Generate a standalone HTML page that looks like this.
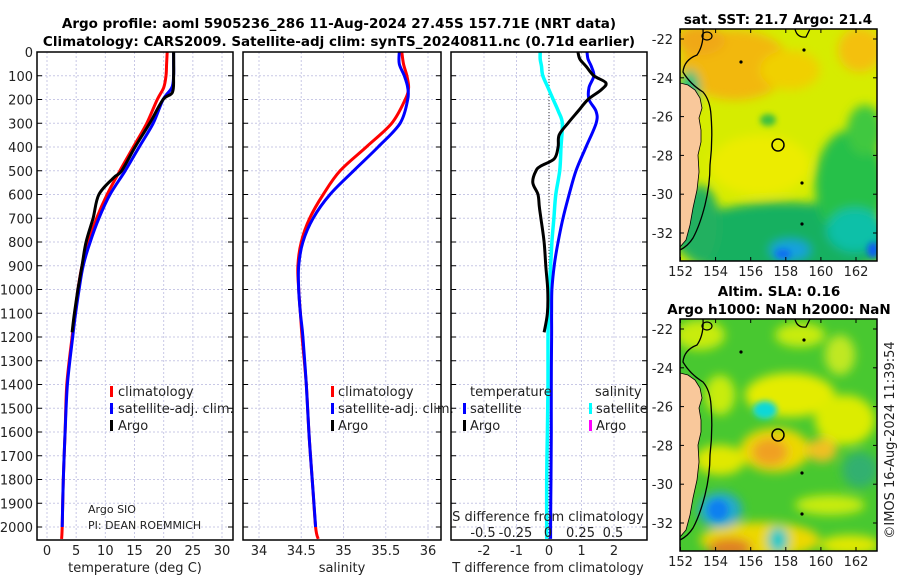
<!DOCTYPE html>
<html><head><meta charset="utf-8"><style>
html,body{margin:0;padding:0;background:#fff;}
svg{display:block;font-family:"DejaVu Sans","Liberation Sans",sans-serif;}
.t{font-size:13px;fill:#222}
.b{font-weight:bold;font-size:13.5px;fill:#000}
</style></head><body>
<svg id="chart" width="900" height="580" viewBox="0 0 900 580">
<defs>
<filter id="bl" x="-50%" y="-50%" width="200%" height="200%"><feGaussianBlur stdDeviation="5"/></filter>
<filter id="bl2" x="-50%" y="-50%" width="200%" height="200%"><feGaussianBlur stdDeviation="3"/></filter>
<clipPath id="cm1"><rect x="680" y="29" width="197" height="232"/></clipPath>
<clipPath id="cm2"><rect x="680" y="319" width="197" height="232"/></clipPath>
</defs>
<g id="g" ></g>
</svg>
<script>
// ---- data ----
const depthsShallow = [0,50,100,150,200,300,400,500,600,700,800,900,1000,1100,1200,1400,1600,1800,2000,2050];
const tempClim = [20.6,20.5,20.4,20.0,18.9,17.1,14.8,12.5,10.3,8.5,7.1,6.0,5.3,4.8,4.3,3.4,3.1,2.8,2.6,2.5];
const tempSat  = [21.7,21.7,21.7,21.4,19.9,18.2,15.8,13.4,10.8,8.9,7.4,6.2,5.5,4.9,4.4,3.5,3.1,2.8,2.6];
const argoDepths = [0,100,170,200,300,400,500,530,600,700,800,900,1000,1100,1180];
const tempArgo = [21.7,21.7,21.5,19.9,17.6,15.1,12.8,11.4,8.9,7.9,6.7,6.0,5.3,4.7,4.3];
const salClim = [35.69,35.71,35.75,35.77,35.73,35.57,35.27,34.96,34.76,34.60,34.50,34.46,34.47,34.49,34.51,34.56,34.59,34.63,34.67,34.70];
const salSat  = [35.66,35.66,35.72,35.76,35.76,35.67,35.41,35.12,34.84,34.64,34.52,34.47,34.47,34.49,34.52,34.56,34.59,34.63,34.67];
const diffDepths = [0,30,60,100,150,200,250,300,400,500,600,700,800,900,1000,1100,1200,1400,1600,1800,2000,2050];
const dTSat = [1.17,1.2,1.3,1.38,1.23,1.23,1.45,1.45,1.14,0.83,0.62,0.43,0.28,0.16,0.09,0.08,0.08,0.07,0.07,0.06,0.05,0.05];
const dSSat = [-0.06,-0.06,-0.05,-0.04,0,0.04,0.08,0.11,0.10,0.09,0.06,0.045,0.03,0.02,0.01,0.005,0,0,-0.005,-0.01,-0.01,-0.01];
const argoDiffDepths = [0,30,60,100,130,160,200,250,300,350,400,450,480,500,550,600,650,700,800,900,1000,1100,1180];
const dTArgo = [0.89,0.95,1.14,1.38,1.75,1.6,1.2,0.89,0.58,0.31,0.28,0.16,-0.25,-0.4,-0.5,-0.34,-0.3,-0.25,-0.15,-0.1,-0.04,-0.05,-0.15];
const depthTicks = [0,100,200,300,400,500,600,700,800,900,1000,1100,1200,1300,1400,1500,1600,1700,1800,1900,2000];
const tempTicks = [0,5,10,15,20,25,30];
const salTicks = [34,34.5,35,35.5,36];
const salTickLabels = ["34","34.5","35","35.5","36"];
const dTTicks = [-2,-1,0,1,2];
const dSTicks = [-0.5,-0.25,0,0.25,0.5];
const dSTickLabels = ["-0.5","-0.25","0","0.25","0.5"];
const lonTicks = [152,154,156,158,160,162];
const latTicks = [-22,-24,-26,-28,-30,-32];

const NS='http://www.w3.org/2000/svg';
const G=document.getElementById('g');
function el(tag,attrs,parent,txt){const e=document.createElementNS(NS,tag);for(const k in attrs)e.setAttribute(k,attrs[k]);if(txt!==undefined)e.textContent=txt;(parent||G).appendChild(e);return e;}

const Y0=52, YS=0.2375, YB=540;
function yD(d){return Y0+d*YS;}
function mk(x0,x1,v0,v1){return v=>x0+(v-v0)/(v1-v0)*(x1-x0);}
const P1={x0:37,x1:233}, P2={x0:243,x1:441}, P3={x0:451,x1:647};
const xT=mk(47,222,0,30), xS=mk(259,428,34,36), xdT=mk(484,614,-2,2), xdS=mk(548,613,0,0.5);

function panel(P,name){
  const g=el('g',{});
  
  
  return g;
}
function grid(g,P,xs,fx){
  depthTicks.forEach(d=>{if(d>0){const l=el('line',{x1:P.x0,x2:P.x1,y1:yD(d),y2:yD(d),stroke:'#c8c8e6','stroke-width':1,'stroke-dasharray':'2,2'},g);
  }});
  xs.forEach(v=>{const x=fx(v);const l=el('line',{x1:x,x2:x,y1:Y0,y2:YB,stroke:'#c8c8e6','stroke-width':1,'stroke-dasharray':'2,2'},g);
  });
  depthTicks.forEach(d=>{el('line',{x1:P.x0,x2:P.x0+5,y1:yD(d),y2:yD(d),stroke:'#000'},g);el('line',{x1:P.x1-5,x2:P.x1,y1:yD(d),y2:yD(d),stroke:'#000'},g);});
}
function frame(g,P){const r=el('rect',{x:P.x0,y:Y0,width:P.x1-P.x0,height:YB-Y0,fill:'none',stroke:'#000','stroke-width':1.5},g);
 }
function line(g,xs,ds,fx,color,w,name){
  const pts=[];for(let i=0;i<Math.min(xs.length,ds.length);i++)pts.push([fx(xs[i]),yD(ds[i])]);
  let p='M'+pts[0][0].toFixed(1)+','+pts[0][1].toFixed(1);
  for(let i=0;i<pts.length-1;i++){
    const p0=pts[Math.max(0,i-1)],p1=pts[i],p2=pts[i+1],p3=pts[Math.min(pts.length-1,i+2)];
    const c1=[p1[0]+(p2[0]-p0[0])/6,p1[1]+(p2[1]-p0[1])/6],c2=[p2[0]-(p3[0]-p1[0])/6,p2[1]-(p3[1]-p1[1])/6];
    p+='C'+c1[0].toFixed(1)+','+c1[1].toFixed(1)+' '+c2[0].toFixed(1)+','+c2[1].toFixed(1)+' '+p2[0].toFixed(1)+','+p2[1].toFixed(1);
  }
  const e=el('path',{d:p,fill:'none',stroke:color,'stroke-width':w,'stroke-linejoin':'round'},g);
  
  
}
function text(g,x,y,s,cls,anchor,name,extra){const a={x:x,y:y,class:cls||'t','text-anchor':anchor||'start'};if(extra)Object.assign(a,extra);const t=el('text',a,g,s);
 return t;}
function legMark(g,x,y,c){const r=el('rect',{x:x,y:y-10,width:3,height:11,fill:c},g);}

// titles
text(G,339,28,'Argo profile: aoml 5905236_286 11-Aug-2024 27.45S 157.71E (NRT data)','b','middle','title-line-1');
text(G,339,46,'Climatology: CARS2009. Satellite-adj clim: synTS_20240811.nc (0.71d earlier)','b','middle','title-line-2');

// panel 1
const g1=panel(P1,'temperature-panel');
grid(g1,P1,tempTicks,xT);
line(g1,tempClim,depthsShallow,xT,'#f00',3,'temperature-climatology-line');
line(g1,tempSat,depthsShallow,xT,'#00f',3,'temperature-satellite-line');
line(g1,tempArgo,argoDepths,xT,'#000',3,'temperature-argo-line');
frame(g1,P1);
depthTicks.forEach(d=>text(g1,33,yD(d)+5,String(d),'t','end','y-tick-label'));
tempTicks.forEach(v=>text(g1,xT(v),555,String(v),'t','middle','x-tick-label'));
text(g1,135,572,'temperature (deg C)','t','middle','x-axis-title');
legMark(g1,110,396,'#f00');text(g1,118,396,'climatology','t','start','legend-entry');
legMark(g1,110,413,'#00f');text(g1,118,413,'satellite-adj. clim.','t','start','legend-entry');
legMark(g1,110,430,'#000');text(g1,118,430,'Argo','t','start','legend-entry');
text(g1,88,513,'Argo SIO','t','start','float-operator',{style:'font-size:11px'});
text(g1,88,529,'PI: DEAN ROEMMICH','t','start','principal-investigator',{style:'font-size:11px'});

// panel 2
const g2=panel(P2,'salinity-panel');
grid(g2,P2,salTicks,xS);
line(g2,salClim,depthsShallow,xS,'#f00',3,'salinity-climatology-line');
line(g2,salSat,depthsShallow,xS,'#00f',3,'salinity-satellite-line');
frame(g2,P2);
salTicks.forEach((v,i)=>text(g2,xS(v),555,salTickLabels[i],'t','middle','x-tick-label'));
text(g2,342,572,'salinity','t','middle','x-axis-title');
legMark(g2,331,396,'#f00');text(g2,338,396,'climatology','t','start','legend-entry');
legMark(g2,331,413,'#00f');text(g2,338,413,'satellite-adj. clim.','t','start','legend-entry');
legMark(g2,331,430,'#000');text(g2,338,430,'Argo','t','start','legend-entry');

// panel 3
const g3=panel(P3,'difference-panel');
grid(g3,P3,dTTicks,xdT);
const z=el('line',{x1:xdT(0),x2:xdT(0),y1:Y0,y2:YB,stroke:'#333','stroke-dasharray':'1,2'},g3);

line(g3,dSSat,diffDepths,xdS,'#0ff',3.5,'salinity-diff-satellite-line');
line(g3,dTSat,diffDepths,xdT,'#00f',3,'temperature-diff-satellite-line');
line(g3,dTArgo,argoDiffDepths,xdT,'#000',3,'temperature-diff-argo-line');
frame(g3,P3);
dTTicks.forEach(v=>text(g3,xdT(v),555,String(v),'t','middle','x-tick-label'));
text(g3,548,572,'T difference from climatology','t','middle','x-axis-title');
text(g3,548,521,'S difference from climatology','t','middle','s-axis-title');
dSTicks.forEach((v,i)=>text(g3,xdS(v),537,dSTickLabels[i],'t','middle','s-tick-label'));
text(g3,470,396,'temperature','t','start','legend-title');
legMark(g3,463,413,'#00f');text(g3,470,413,'satellite','t','start','legend-entry');
legMark(g3,463,430,'#000');text(g3,470,430,'Argo','t','start','legend-entry');
text(g3,595,396,'salinity','t','start','legend-title');
legMark(g3,589,413,'#0ff');text(g3,596,413,'satellite','t','start','legend-entry');
legMark(g3,589,430,'#f0f');text(g3,596,430,'Argo','t','start','legend-entry');

// maps
const lonX=mk(680.5,856,152,162);
function mapAxes(g,top,bot,lat22,lat32){
  const latY=mk(lat22,lat32,-22,-32);
  latTicks.forEach(v=>{const y=latY(v);el('line',{x1:680,x2:684,y1:y,y2:y,stroke:'#000'},g);el('line',{x1:873,x2:877,y1:y,y2:y,stroke:'#000'},g);
    text(g,673,y+5,String(v),'t','end','lat-tick-label');});
  lonTicks.forEach(v=>{const x=lonX(v);el('line',{x1:x,x2:x,y1:bot-4,y2:bot,stroke:'#000'},g);el('line',{x1:x,x2:x,y1:top,y2:top+4,stroke:'#000'},g);
    text(g,x,bot+15,String(v),'t','middle','lon-tick-label');});
  const r=el('rect',{x:680,y:top,width:197,height:bot-top,fill:'none',stroke:'#000','stroke-width':1.5},g);
  
}
function coast(g,dy){
  const c=el('path',{d:`M680,${dy+83} L688,${dy+85} L695,${dy+90} L700,${dy+98} L702,${dy+108} L699,${dy+118} L701,${dy+130} L701,${dy+142} L698,${dy+155} L699,${dy+172} L697,${dy+190} L693,${dy+208} L690,${dy+225} L686,${dy+240} L680,${dy+247} Z`,fill:'#f9c89b',stroke:'#000','stroke-width':0.8},g);
  
  el('path',{d:`M703,${dy+29} Q704,${dy+45} 697,${dy+55} Q684,${dy+60} 683,${dy+72} Q690,${dy+84} 703,${dy+92} Q710,${dy+100} 711,${dy+115} Q713,${dy+140} 710,${dy+165} Q710,${dy+185} 705,${dy+205} Q700,${dy+225} 693,${dy+238} Q688,${dy+246} 680,${dy+250}`,fill:'none',stroke:'#000','stroke-width':1.3},g);
  el('ellipse',{cx:707,cy:dy+36,rx:5,ry:4,fill:'none',stroke:'#000','stroke-width':1.2},g);
  el('path',{d:`M795,${dy+29} Q797,${dy+38} 806,${dy+37} L810,${dy+29}`,fill:'none',stroke:'#000','stroke-width':1.3},g);
  [[741,dy+62],[804,dy+50],[802,dy+183],[802,dy+224]].forEach(p=>el('circle',{cx:p[0],cy:p[1],r:1.6,fill:'#000'},g));
  const o=el('circle',{cx:778,cy:dy+145,r:6,fill:'none',stroke:'#000','stroke-width':1.5},g);
  
}
// SST map
const m1=el('g',{});


const c1=el('g',{'clip-path':'url(#cm1)'},m1);
el('rect',{x:680,y:29,width:197,height:232,fill:'#d6ec00'},c1);
const b1=el('g',{filter:'url(#bl)'},c1);
[[735,65,55,35,'#f2b810'],[700,40,25,15,'#f0a818'],[860,50,22,22,'#f4c010'],[790,70,30,20,'#f0d000'],[760,165,50,30,'#ecec00'],[785,240,110,38,'#14b060'],[850,185,35,55,'#28c048'],[865,130,18,25,'#40c840'],[855,230,28,22,'#10c0a8'],[790,250,20,10,'#18a0e0'],[700,225,20,40,'#20b060'],[690,90,10,20,'#20c080']].forEach(e=>el('ellipse',{cx:e[0],cy:e[1],rx:e[2],ry:e[3],fill:e[4]},b1));
el('ellipse',{cx:768,cy:120,rx:8,ry:6,fill:'#3cc040',filter:'url(#bl2)'},c1);
el('ellipse',{cx:783,cy:254,rx:8,ry:5,fill:'#1070f0',filter:'url(#bl2)'},c1);
el('ellipse',{cx:873,cy:250,rx:6,ry:8,fill:'#1060f0',filter:'url(#bl2)'},c1);
coast(c1,0);
mapAxes(m1,29,261,39,233);
text(m1,778,24,'sat. SST: 21.7 Argo: 21.4','b','middle','sst-map-title');

// SLA map
const m2=el('g',{});


const c2=el('g',{'clip-path':'url(#cm2)'},m2);
el('rect',{x:680,y:319,width:197,height:232,fill:'#48c830'},c2);
const b2=el('g',{filter:'url(#bl)'},c2);
[[700,335,25,15,'#c8ec10'],[800,335,25,12,'#c8ec10'],[790,395,45,22,'#e4ec00'],[845,420,30,25,'#dcec00'],[840,355,15,20,'#c0e820'],[720,395,15,20,'#c8ec10'],[775,450,35,22,'#ecd800'],[770,452,18,14,'#f0a020'],[822,450,15,12,'#f0c020'],[720,460,25,15,'#e0e800'],[760,540,60,18,'#ecd800'],[730,548,22,10,'#e08020'],[778,540,10,13,'#10c8c8'],[720,510,22,18,'#20a8d0'],[860,470,18,18,'#30b070'],[850,545,30,10,'#e0e800'],[830,505,35,10,'#c8ec10']].forEach(e=>el('ellipse',{cx:e[0],cy:e[1],rx:e[2],ry:e[3],fill:e[4]},b2));
el('ellipse',{cx:765,cy:410,rx:12,ry:9,fill:'#10d8d8',filter:'url(#bl2)'},c2);
el('ellipse',{cx:718,cy:510,rx:10,ry:10,fill:'#1080f0',filter:'url(#bl2)'},c2);
coast(c2,290);
mapAxes(m2,319,551,329,523);
text(m2,779,296,'Altim. SLA: 0.16','b','middle','sla-map-title');
text(m2,779,314,'Argo h1000: NaN h2000: NaN','b','middle','sla-map-subtitle');
text(G,0,0,'©IMOS 16-Aug-2024 11:39:54','t','middle','copyright-timestamp',{transform:'translate(894,440) rotate(-90)'});
</script>
</body></html>
